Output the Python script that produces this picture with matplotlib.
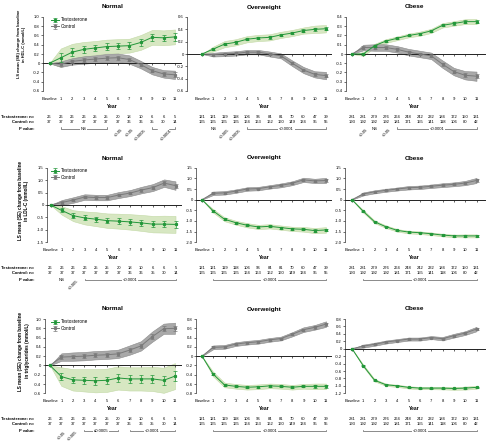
import numpy as np
import matplotlib
matplotlib.use("Agg")
import matplotlib.pyplot as plt
from matplotlib import transforms
from matplotlib.lines import Line2D

plt.rcParams['font.family'] = ['Liberation Sans', 'DejaVu Sans']
plt.rcParams['axes.unicode_minus'] = False

W, H = 490, 444

years = list(range(12))
year_labels = ["Baseline"] + [str(i) for i in range(1, 12)]
groups = ["Normal", "Overweight", "Obese"]
ylabels = ["LS mean (SE) change from baseline\nin HDL-C (mmol/L)",
           "LS mean (SE) change from baseline\nin LDL-C (mmol/L)",
           "LS mean (SE) change from baseline\nin triglycerides (mmol/L)"]

# patients at risk (same for all three rows)
n_t_normal = [26, 26, 26, 26, 25, 25, 20, 18, 10, 6, 6, 5]
n_c_normal = [37, 37, 37, 37, 37, 37, 37, 36, 36, 35, 30, 14]
n_t_over = [121, 121, 119, 118, 106, 96, 84, 81, 70, 60, 47, 39]
n_c_over = [165, 165, 165, 165, 164, 163, 162, 160, 149, 134, 95, 55]
n_t_obese = [281, 281, 279, 276, 264, 248, 242, 232, 184, 172, 150, 131]
n_c_obese = [193, 192, 192, 192, 181, 171, 155, 141, 118, 106, 80, 42]

# ---- HDL-C ----
hdl_normal_t = [0, 0.12, 0.24, 0.30, 0.33, 0.36, 0.37, 0.38, 0.45, 0.56, 0.55, 0.57]
hdl_normal_t_se = [0, 0.10, 0.08, 0.07, 0.07, 0.07, 0.07, 0.07, 0.07, 0.07, 0.07, 0.08]
hdl_normal_t_ci = [0, 0.20, 0.18, 0.16, 0.15, 0.15, 0.15, 0.15, 0.16, 0.16, 0.16, 0.16]
hdl_normal_c = [0, -0.02, 0.04, 0.07, 0.09, 0.11, 0.12, 0.08, -0.03, -0.16, -0.23, -0.25]
hdl_normal_c_se = [0, 0.03, 0.03, 0.04, 0.04, 0.04, 0.04, 0.04, 0.04, 0.04, 0.04, 0.05]
hdl_normal_c_ci = [0, 0.06, 0.07, 0.08, 0.08, 0.09, 0.09, 0.09, 0.08, 0.08, 0.08, 0.09]

hdl_over_t = [0, 0.08, 0.16, 0.19, 0.24, 0.26, 0.27, 0.31, 0.34, 0.38, 0.40, 0.41]
hdl_over_t_se = [0, 0.02, 0.02, 0.02, 0.02, 0.02, 0.02, 0.02, 0.02, 0.02, 0.025, 0.025]
hdl_over_t_ci = [0, 0.04, 0.05, 0.05, 0.05, 0.05, 0.05, 0.05, 0.05, 0.05, 0.06, 0.06]
hdl_over_c = [0, -0.01, 0.0, 0.01, 0.03, 0.03, 0.0, -0.03, -0.15, -0.26, -0.33, -0.35]
hdl_over_c_se = [0, 0.015, 0.015, 0.015, 0.015, 0.015, 0.015, 0.02, 0.02, 0.02, 0.025, 0.025]
hdl_over_c_ci = [0, 0.03, 0.035, 0.035, 0.035, 0.035, 0.04, 0.04, 0.045, 0.05, 0.05, 0.06]

hdl_obese_t = [0, 0.0, 0.09, 0.14, 0.17, 0.20, 0.22, 0.25, 0.31, 0.33, 0.35, 0.35]
hdl_obese_t_se = [0, 0.01, 0.01, 0.01, 0.01, 0.01, 0.01, 0.01, 0.012, 0.012, 0.013, 0.014]
hdl_obese_t_ci = [0, 0.02, 0.02, 0.02, 0.02, 0.02, 0.022, 0.022, 0.024, 0.024, 0.026, 0.028]
hdl_obese_c = [0, 0.07, 0.07, 0.07, 0.05, 0.02, 0.0, -0.02, -0.11, -0.19, -0.23, -0.24]
hdl_obese_c_se = [0, 0.015, 0.015, 0.015, 0.015, 0.015, 0.016, 0.017, 0.018, 0.02, 0.02, 0.022]
hdl_obese_c_ci = [0, 0.03, 0.035, 0.035, 0.035, 0.035, 0.035, 0.035, 0.04, 0.04, 0.045, 0.05]

# ---- LDL-C ----
ldl_normal_t = [0, -0.22, -0.43, -0.52, -0.57, -0.63, -0.65, -0.68, -0.72, -0.77, -0.77, -0.78]
ldl_normal_t_se = [0, 0.08, 0.09, 0.10, 0.10, 0.10, 0.11, 0.11, 0.12, 0.13, 0.13, 0.14]
ldl_normal_t_ci = [0, 0.17, 0.22, 0.26, 0.28, 0.29, 0.30, 0.31, 0.32, 0.33, 0.34, 0.34]
ldl_normal_c = [0, 0.10, 0.20, 0.32, 0.30, 0.30, 0.40, 0.48, 0.60, 0.70, 0.88, 0.78]
ldl_normal_c_se = [0, 0.05, 0.05, 0.05, 0.05, 0.05, 0.05, 0.05, 0.06, 0.06, 0.07, 0.08]
ldl_normal_c_ci = [0, 0.10, 0.11, 0.11, 0.11, 0.11, 0.12, 0.12, 0.13, 0.14, 0.15, 0.17]

ldl_over_t = [0, -0.53, -0.92, -1.08, -1.20, -1.28, -1.25, -1.31, -1.37, -1.39, -1.45, -1.42]
ldl_over_t_se = [0, 0.04, 0.045, 0.045, 0.05, 0.05, 0.05, 0.05, 0.05, 0.055, 0.06, 0.065]
ldl_over_t_ci = [0, 0.08, 0.09, 0.09, 0.10, 0.10, 0.10, 0.10, 0.10, 0.11, 0.12, 0.13]
ldl_over_c = [0, 0.30, 0.32, 0.40, 0.50, 0.52, 0.60, 0.67, 0.77, 0.93, 0.88, 0.90]
ldl_over_c_se = [0, 0.04, 0.04, 0.04, 0.04, 0.04, 0.04, 0.045, 0.045, 0.05, 0.05, 0.06]
ldl_over_c_ci = [0, 0.08, 0.08, 0.08, 0.08, 0.08, 0.08, 0.09, 0.09, 0.10, 0.10, 0.12]

ldl_obese_t = [0, -0.55, -1.04, -1.27, -1.44, -1.52, -1.55, -1.60, -1.66, -1.70, -1.70, -1.70]
ldl_obese_t_se = [0, 0.03, 0.03, 0.03, 0.03, 0.03, 0.03, 0.03, 0.03, 0.03, 0.035, 0.035]
ldl_obese_t_ci = [0, 0.06, 0.06, 0.06, 0.06, 0.06, 0.06, 0.06, 0.06, 0.06, 0.07, 0.07]
ldl_obese_c = [0, 0.27, 0.37, 0.44, 0.50, 0.56, 0.58, 0.63, 0.68, 0.72, 0.78, 0.90]
ldl_obese_c_se = [0, 0.035, 0.035, 0.035, 0.035, 0.04, 0.04, 0.04, 0.045, 0.045, 0.05, 0.06]
ldl_obese_c_ci = [0, 0.07, 0.07, 0.07, 0.07, 0.08, 0.08, 0.08, 0.09, 0.09, 0.10, 0.12]

# ---- triglycerides ----
tg_normal_t = [0, -0.24, -0.31, -0.32, -0.33, -0.32, -0.27, -0.29, -0.29, -0.29, -0.32, -0.23]
tg_normal_t_se = [0, 0.08, 0.07, 0.08, 0.09, 0.08, 0.08, 0.09, 0.08, 0.09, 0.10, 0.10]
tg_normal_t_ci = [0, 0.20, 0.23, 0.24, 0.25, 0.25, 0.25, 0.25, 0.25, 0.26, 0.27, 0.28]
tg_normal_c = [0, 0.18, 0.19, 0.20, 0.22, 0.23, 0.25, 0.33, 0.42, 0.62, 0.79, 0.80]
tg_normal_c_se = [0, 0.04, 0.04, 0.04, 0.04, 0.04, 0.04, 0.04, 0.05, 0.05, 0.05, 0.06]
tg_normal_c_ci = [0, 0.08, 0.09, 0.09, 0.09, 0.09, 0.09, 0.10, 0.10, 0.11, 0.11, 0.12]

tg_over_t = [0, -0.39, -0.62, -0.65, -0.67, -0.66, -0.64, -0.65, -0.67, -0.65, -0.65, -0.65]
tg_over_t_se = [0, 0.025, 0.02, 0.02, 0.02, 0.02, 0.025, 0.025, 0.025, 0.025, 0.03, 0.03]
tg_over_t_ci = [0, 0.05, 0.05, 0.05, 0.05, 0.05, 0.05, 0.05, 0.05, 0.05, 0.06, 0.06]
tg_over_c = [0, 0.19, 0.20, 0.26, 0.29, 0.31, 0.35, 0.38, 0.47, 0.57, 0.62, 0.69]
tg_over_c_se = [0, 0.02, 0.02, 0.02, 0.02, 0.02, 0.02, 0.02, 0.02, 0.025, 0.025, 0.03]
tg_over_c_ci = [0, 0.04, 0.04, 0.04, 0.04, 0.04, 0.04, 0.04, 0.045, 0.05, 0.05, 0.06]

tg_obese_t = [0, -0.46, -0.85, -0.97, -1.00, -1.04, -1.06, -1.06, -1.06, -1.07, -1.06, -1.04]
tg_obese_t_se = [0, 0.015, 0.015, 0.015, 0.015, 0.015, 0.015, 0.015, 0.015, 0.015, 0.02, 0.02]
tg_obese_t_ci = [0, 0.03, 0.03, 0.03, 0.03, 0.03, 0.03, 0.03, 0.035, 0.035, 0.04, 0.04]
tg_obese_c = [0, 0.07, 0.12, 0.18, 0.22, 0.26, 0.26, 0.30, 0.27, 0.35, 0.42, 0.53]
tg_obese_c_se = [0, 0.02, 0.02, 0.02, 0.02, 0.02, 0.02, 0.02, 0.02, 0.025, 0.025, 0.03]
tg_obese_c_ci = [0, 0.04, 0.04, 0.04, 0.04, 0.04, 0.04, 0.04, 0.045, 0.05, 0.05, 0.06]

# y ticks
hdl_normal_yticks = [-0.6, -0.4, -0.2, 0, 0.2, 0.4, 0.6, 0.8, 1.0]
hdl_over_yticks = [-0.6, -0.4, -0.2, 0, 0.2, 0.4, 0.6]
hdl_obese_yticks = [-0.4, -0.3, -0.2, -0.1, 0, 0.1, 0.2, 0.3, 0.4]
ldl_normal_yticks = [-1.5, -1.0, -0.5, 0, 0.5, 1.0, 1.5]
ldl_over_yticks = [-2.0, -1.5, -1.0, -0.5, 0, 0.5, 1.0, 1.5]
ldl_obese_yticks = [-2.0, -1.5, -1.0, -0.5, 0, 0.5, 1.0, 1.5]
tg_normal_yticks = [-0.6, -0.4, -0.2, 0, 0.2, 0.4, 0.6, 0.8, 1.0]
tg_over_yticks = [-0.8, -0.6, -0.4, -0.2, 0, 0.2, 0.4, 0.6, 0.8]
tg_obese_yticks = [-1.2, -1.0, -0.8, -0.6, -0.4, -0.2, 0, 0.2, 0.4, 0.6, 0.8]

# P values: ("t", x, txt) plain, ("r", x, txt) rotated,
# ("b", x0, x1, txt) bracket, ("br", x0, x1, txt) bracket with rotated text
hdl_normal_p = [("b", 1, 5, "NS"), ("r", 6, "<0.05"), ("r", 7, "<0.05"),
                ("r", 8, "<0.0005"), ("br", 9, 11, "<0.0001")]
hdl_over_p = [("t", 1, "NS"), ("r", 2, "<0.005"), ("r", 3, "<0.0005"), ("b", 4, 11, "<0.0001")]
hdl_obese_p = [("r", 1, "<0.05"), ("t", 2, "NS"), ("r", 3, "<0.05"), ("b", 4, 11, "<0.0001")]
ldl_normal_p = [("t", 1, "NS"), ("r", 2, "<0.005"), ("b", 3, 11, "<0.0001")]
ldl_over_p = [("b", 1, 11, "<0.0001")]
ldl_obese_p = [("b", 1, 11, "<0.0001")]
tg_normal_p = [("r", 1, "<0.05"), ("r", 2, "<0.005"), ("b", 3, 6, "≤0.0005"), ("b", 7, 11, "<0.0001")]
tg_over_p = [("b", 1, 11, "<0.0001")]
tg_obese_p = [("b", 1, 11, "<0.0001")]

GREEN = "#23973a"
GREEN_BAND = "#d7e7c2"
GREEN_EDGE = "#c3d9a6"
GREY = "#7a7a7a"
GREY_BAND = "#a9a9a9"
GREY_EDGE = "#8a8a8a"

# layout in pixels: (top, bottom, title y) per row
ROWS = [(17, 91, 7), (167.7, 242.3, 158), (319, 393.3, 309)]
# per row, per column: (y-axis x, baseline x, year-11 x, right end)
COLS = [
    [(43, 49.5, 175, 181), (187, 202, 326, 331), (346, 352, 476.5, 485)],
    [(47, 50.5, 175.5, 181), (196, 202, 326, 331), (345, 352, 476.5, 485)],
    [(44.5, 50, 175, 181), (196, 202, 326, 331), (345, 352, 476.5, 485)],
]
YLAB_POS = [(21.5, 44, 2.9), (23.5, 201, 3.3), (24, 351, 3.3)]

panels = [
    [(hdl_normal_t, hdl_normal_t_se, hdl_normal_t_ci, hdl_normal_c, hdl_normal_c_se, hdl_normal_c_ci, hdl_normal_yticks, hdl_normal_p),
     (hdl_over_t, hdl_over_t_se, hdl_over_t_ci, hdl_over_c, hdl_over_c_se, hdl_over_c_ci, hdl_over_yticks, hdl_over_p),
     (hdl_obese_t, hdl_obese_t_se, hdl_obese_t_ci, hdl_obese_c, hdl_obese_c_se, hdl_obese_c_ci, hdl_obese_yticks, hdl_obese_p)],
    [(ldl_normal_t, ldl_normal_t_se, ldl_normal_t_ci, ldl_normal_c, ldl_normal_c_se, ldl_normal_c_ci, ldl_normal_yticks, ldl_normal_p),
     (ldl_over_t, ldl_over_t_se, ldl_over_t_ci, ldl_over_c, ldl_over_c_se, ldl_over_c_ci, ldl_over_yticks, ldl_over_p),
     (ldl_obese_t, ldl_obese_t_se, ldl_obese_t_ci, ldl_obese_c, ldl_obese_c_se, ldl_obese_c_ci, ldl_obese_yticks, ldl_obese_p)],
    [(tg_normal_t, tg_normal_t_se, tg_normal_t_ci, tg_normal_c, tg_normal_c_se, tg_normal_c_ci, tg_normal_yticks, tg_normal_p),
     (tg_over_t, tg_over_t_se, tg_over_t_ci, tg_over_c, tg_over_c_se, tg_over_c_ci, tg_over_yticks, tg_over_p),
     (tg_obese_t, tg_obese_t_se, tg_obese_t_ci, tg_obese_c, tg_obese_c_se, tg_obese_c_ci, tg_obese_yticks, tg_obese_p)],
]
n_table = [(n_t_normal, n_c_normal), (n_t_over, n_c_over), (n_t_obese, n_c_obese)]

fig = plt.figure(figsize=(W / 100, H / 100), dpi=100)


def fy(py):
    return 1 - py / H


def fmt_tick(v):
    return "0" if v == 0 else f"{v:.1f}"


def draw_panel(r, c):
    t, t_se, t_ci, ctl, c_se, c_ci, yt, pvals = panels[r][c]
    top, bot, title_y = ROWS[r]
    yax, xb, x11, xr = COLS[r][c]
    ax = fig.add_axes([yax / W, fy(bot), (xr - yax) / W, (bot - top) / H])
    s = (x11 - xb) / 11
    ax.set_xlim((yax - xb) / s, (xr - xb) / s)
    ax.set_ylim(yt[0], yt[-1])

    x = np.array(years)
    t, t_ci, ctl, c_ci = map(np.array, (t, t_ci, ctl, c_ci))
    ax.fill_between(x, t - t_ci, t + t_ci, facecolor=GREEN_BAND, edgecolor=GREEN_EDGE, lw=0.4, zorder=1)
    ax.fill_between(x, ctl - c_ci, ctl + c_ci, facecolor=GREY_BAND, edgecolor=GREY_EDGE, lw=0.4, zorder=1.5)
    eb_c = ax.errorbar(x, ctl, yerr=c_se, color=GREY, marker="s", ms=1.3, lw=0.7,
                       elinewidth=0.5, capsize=1.1, capthick=0.5, zorder=3, label="Control")
    eb_t = ax.errorbar(x, t, yerr=t_se, color=GREEN, marker="s", ms=1.3, lw=0.7,
                       elinewidth=0.5, capsize=1.1, capthick=0.5, zorder=4, label="Testosterone")

    for side in ("top", "right"):
        ax.spines[side].set_visible(False)
    ax.spines["bottom"].set_position(("data", 0))
    ax.spines["bottom"].set_linewidth(0.7)
    ax.spines["bottom"].set_color("#222222")
    ax.spines["left"].set_linewidth(0.5)
    ax.spines["left"].set_color("#333333")
    ax.set_xticks(years)
    ax.tick_params(axis="x", direction="out", length=1.6, width=0.5, labelbottom=False, color="#222222")
    ax.set_yticks(yt)
    ax.set_yticklabels([fmt_tick(v) for v in yt])
    ax.tick_params(axis="y", direction="out", length=1.6, width=0.5, pad=0.8, labelsize=3, color="#333333")
    ax.patch.set_visible(False)

    tr = transforms.blended_transform_factory(ax.transData, fig.transFigure)
    for xi, lab in zip(years, year_labels):
        ax.text(xi, fy(bot + 8), lab, transform=tr, ha="center", va="center", fontsize=3)
    ax.text(5.5, fy(bot + 15.5), "Year", transform=tr, ha="center", va="center",
            fontsize=3.6, fontweight="bold")
    ax.text(5.5, fy(title_y), groups[c], transform=tr, ha="center", va="center",
            fontsize=4.6, fontweight="bold")

    nt, nc = n_table[c]
    for xi, a, b in zip(years, nt, nc):
        ax.text(xi, fy(bot + 25.5), str(a), transform=tr, ha="center", va="center", fontsize=3)
        ax.text(xi, fy(bot + 30.8), str(b), transform=tr, ha="center", va="center", fontsize=3)

    py = fy(bot + 38)
    tick_h = 1.8 / H
    for item in pvals:
        kind = item[0]
        if kind == "t":
            ax.text(item[1], py, item[2], transform=tr, ha="center", va="center", fontsize=3)
        elif kind == "r":
            ax.text(item[1] + 0.25, py + 1.0 / H, item[2], transform=tr, ha="right", va="top",
                    rotation=45, rotation_mode="anchor", fontsize=3)
        elif kind == "b":
            x0, x1 = item[1], item[2]
            ax.add_line(Line2D([x0, x0, x1, x1], [py + tick_h, py, py, py + tick_h],
                               transform=tr, lw=0.4, color="#333333", clip_on=False))
            ax.text((x0 + x1) / 2, py, item[3], transform=tr, ha="center", va="center", fontsize=3,
                    bbox=dict(facecolor="white", edgecolor="none", pad=0.6), zorder=5)
        elif kind == "br":
            x0, x1 = item[1], item[2]
            ax.add_line(Line2D([x0, x0, x0 + 0.4], [py + tick_h, py, py],
                               transform=tr, lw=0.4, color="#333333", clip_on=False))
            ax.add_line(Line2D([x1 - 0.5, x1, x1], [py, py, py + tick_h],
                               transform=tr, lw=0.4, color="#333333", clip_on=False))
            ax.text(x0 + 1.55, py + 1.0 / H, item[3], transform=tr, ha="right", va="top",
                    rotation=45, rotation_mode="anchor", fontsize=3)

    if c == 0:
        for lab, dy in (("Testosterone: n=", 25.5), ("Control: n=", 30.8), ("P value:", 38)):
            fig.text(34 / W, fy(bot + dy), lab, ha="right", va="center", fontsize=3, fontweight="bold")
        lx, ly, lfs = YLAB_POS[r]
        fig.text(lx / W, fy(ly), ylabels[r], ha="center", va="center", rotation=90,
                 fontsize=lfs, fontweight="bold", linespacing=1.3)
        leg = ax.legend(handles=[eb_t, eb_c], loc="upper left", frameon=False, fontsize=3.3,
                        bbox_to_anchor=((51 - yax) / (xr - yax), 1.0), borderaxespad=0,
                        borderpad=0.1, handlelength=1.6, handletextpad=0.5, labelspacing=0.35)
    return ax


for r in range(3):
    for c in range(3):
        draw_panel(r, c)

fig.savefig("out.png", dpi=100)
